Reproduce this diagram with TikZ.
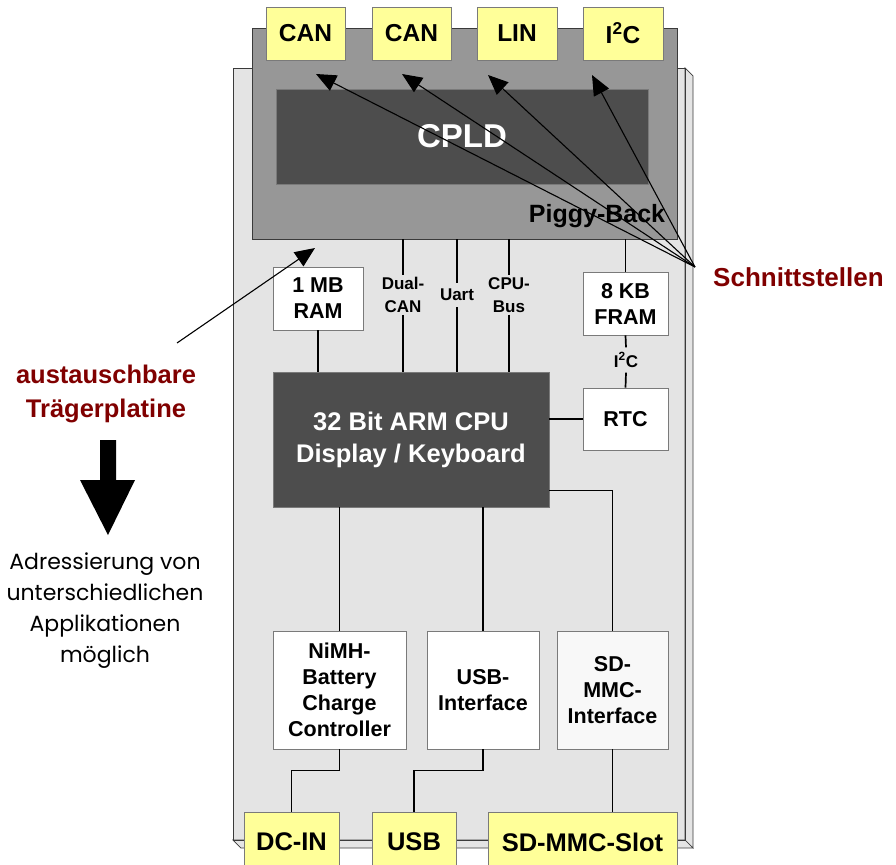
\documentclass[tikz,border=0pt]{standalone}
\usepackage{fontspec}
\setmainfont{Liberation Sans}
\newfontfamily\geo{Poppins}
\usetikzlibrary{arrows.meta}
\definecolor{boardc}{HTML}{E4E4E4}
\definecolor{edgec}{HTML}{7A7A7A}
\definecolor{boardedge}{HTML}{3A3A3A}
\definecolor{piggyc}{HTML}{979797}
\definecolor{darkc}{HTML}{4D4D4D}
\definecolor{yel}{HTML}{FFFF99}
\definecolor{redc}{HTML}{800000}
\definecolor{sdc}{HTML}{F8F8F8}
\newcommand\myfs[2]{\fontsize{#1}{#2}\selectfont}
\begin{document}
\begin{tikzpicture}[x=1pt,y=-1pt,
  box/.style={draw=edgec, line width=0.8pt, inner sep=0pt, align=center},
  ybox/.style={box, fill=yel, font=\myfs{24.5}{29}\bfseries},
  wbox/.style={box, fill=white, font=\myfs{21.5}{26}\bfseries},
  dbox/.style={box, fill=darkc, text=white},
  lbl/.style={inner sep=1pt, align=center, font=\myfs{17}{23}\bfseries},
  wire/.style={line width=1.7pt, black},
  ptr/.style={line width=1.1pt, black, -{Triangle[length=20pt,width=17pt]}},
  redlbl/.style={text=redc, align=center, inner sep=0pt}]
\useasboundingbox (0,0) rectangle (896,864);
% carrier board (3D slab)
\fill[boardc] (233,68) rectangle (685,840);
\filldraw[fill=boardc, draw=boardedge, line width=0.7pt] (685,68) -- (693,76) -- (693,848) -- (685,840) -- cycle;
\filldraw[fill=boardc, draw=boardedge, line width=0.7pt] (233,840) -- (685,840) -- (693,848) -- (241,848) -- cycle;
\draw[boardedge, line width=0.7pt] (233,68) rectangle (685,840);
% piggy-back
\node[box, draw=boardedge, fill=piggyc, minimum width=425pt, minimum height=211pt] (piggy) at (464.5,133.5) {};
\node[dbox, minimum width=372pt, minimum height=95pt, font=\myfs{33}{38}\bfseries] (cpld) at (462,136.5) {CPLD};
\node[font=\myfs{25}{30}\bfseries, inner sep=0pt] (pblabel) at (597,216) {Piggy-Back};
% top connectors
\node[ybox, minimum width=79pt, minimum height=53pt] (can1) at (305.5,33.5) {CAN};
\node[ybox, minimum width=79pt, minimum height=53pt] (can2) at (411.5,33.5) {CAN};
\node[ybox, minimum width=80pt, minimum height=53pt] (lin) at (517,33.5) {LIN};
\node[ybox, minimum width=80pt, minimum height=53pt] (i2c) at (623,33.5) {I\textsuperscript{2}C};
% components
\node[wbox, minimum width=90pt, minimum height=63pt] (ram) at (318,298.5) {1 MB\\RAM};
\node[wbox, minimum width=85pt, minimum height=63pt] (fram) at (625.5,303.5) {8 KB\\FRAM};
\node[wbox, minimum width=85pt, minimum height=62pt] (rtc) at (625.5,419) {RTC};
\node[dbox, minimum width=276pt, minimum height=135pt, font=\myfs{25.5}{32}\bfseries] (cpu) at (411,439.5) {32 Bit ARM CPU\\Display / Keyboard};
\node[wbox, minimum width=133pt, minimum height=118pt] (nimh) at (339.5,690) {NiMH-\\Battery\\Charge\\Controller};
\node[wbox, minimum width=112pt, minimum height=118pt] (usbif) at (483,690) {USB-\\Interface};
\node[wbox, fill=sdc, minimum width=111pt, minimum height=118pt] (sdif) at (612.5,690) {SD-\\MMC-\\Interface};
% bottom connectors
\node[ybox, font=\myfs{25.5}{30}\bfseries, minimum width=95pt, minimum height=60pt] (dcin) at (291.5,842) {DC-IN};
\node[ybox, font=\myfs{25.5}{30}\bfseries, minimum width=84pt, minimum height=60pt] (usb) at (414,842) {USB};
\node[ybox, font=\myfs{25.5}{30}\bfseries, minimum width=189pt, minimum height=60pt] (slot) at (582.5,842) {SD-MMC-Slot};
% bus labels
\node[lbl, inner ysep=2pt] (dualcan) at (403,295) {Dual-\\CAN};
\node[lbl, inner ysep=6pt] (uart) at (457,295) {Uart};
\node[lbl, inner ysep=2pt] (cpubus) at (509,295) {CPU-\\Bus};
\node[lbl, inner ysep=5pt] (i2clbl) at (626,360) {I\textsuperscript{2}C};
% wires
\draw[wire] (ram.south) -- (ram.south |- cpu.north);
\draw[wire] (dualcan |- piggy.south) -- (dualcan.north);
\draw[wire] (dualcan.south) -- (dualcan |- cpu.north);
\draw[wire] (uart |- piggy.south) -- (uart.north);
\draw[wire] (uart.south) -- (uart |- cpu.north);
\draw[wire] (cpubus |- piggy.south) -- (cpubus.north);
\draw[wire] (cpubus.south) -- (cpubus |- cpu.north);
\draw[wire] (fram.north |- piggy.south) -- (fram.north);
\draw[wire] (fram.south) -- (i2clbl.north);
\draw[wire] (i2clbl.south) -- (rtc.north);
\draw[wire] (rtc.west -| cpu.east) -- (rtc.west);
\draw[wire] (nimh.north) -- (nimh.north |- cpu.south);
\draw[wire] (usbif.north) -- (usbif.north |- cpu.south);
\draw[wire] ([yshift=17pt]cpu.south east) -| (sdif.north);
\draw[wire] (nimh.south) -- ++(0,21) -| (dcin.north);
\draw[wire] (usbif.south) -- ++(0,21) -| (usb.north);
\draw[wire] (sdif.south) -- (sdif.south |- slot.north);
% interface pointers
\coordinate (sp) at (695,267);
\coordinate (t1) at (316,74);
\coordinate (t2) at (402,74);
\coordinate (t3) at (488,75);
\coordinate (t4) at (592,75);
\draw[ptr] (sp) -- (t1);
\draw[ptr] (sp) -- (t2);
\draw[ptr] (sp) -- (t3);
\draw[ptr] (sp) -- (t4);
\node[redlbl, anchor=west, font=\myfs{26}{30}\bfseries] (schnitt) at (713,277) {Schnittstellen};
% carrier label
\node[redlbl, font=\myfs{25.5}{34}\bfseries] (traeger) at (106,394) {austauschbare\\Trägerplatine};
\coordinate (tp) at (315,248);
\coordinate (ts) at (177,343);
\draw[ptr] (ts) -- (tp);
% big down arrow
\fill[black] (100,440) -- (116,440) -- (116,480) -- (135,480) -- (108,535) -- (80,480) -- (100,480) -- cycle;
\node[align=center, inner sep=0pt, font=\geo\myfs{22}{31}] (adr) at (105,611) {Adressierung von\\unterschiedlichen\\Applikationen\\möglich};
\end{tikzpicture}
\end{document}
